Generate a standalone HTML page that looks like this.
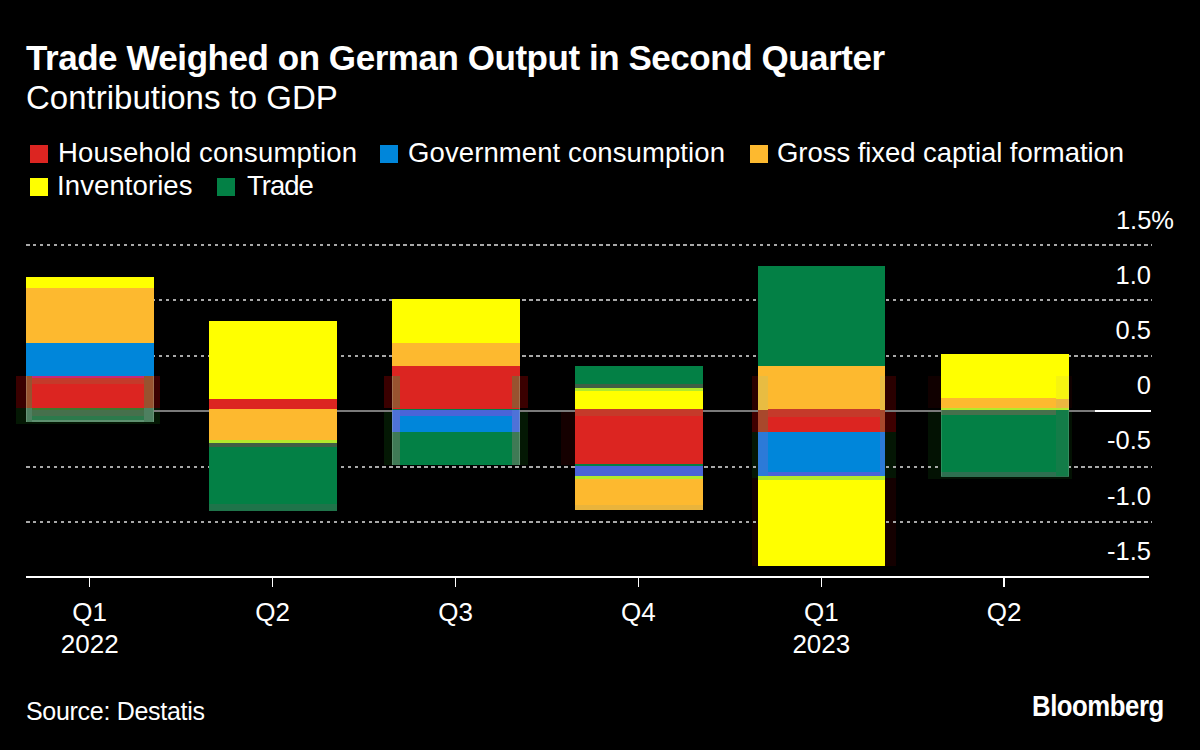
<!DOCTYPE html>
<html><head><meta charset="utf-8"><style>
html,body{margin:0;padding:0;background:#000;}
body{width:1200px;height:750px;position:relative;overflow:hidden;color:#fff;font-family:"Liberation Sans",sans-serif;}
</style></head><body>
<div style="position:absolute;left:16px;top:376px;width:144px;height:32px;background:#3a0000;"></div>
<div style="position:absolute;left:16px;top:408px;width:144px;height:16px;background:#041804;"></div>
<div style="position:absolute;left:384px;top:376px;width:144px;height:32px;background:#3a0000;"></div>
<div style="position:absolute;left:384px;top:411.8px;width:144px;height:52.8px;background:#041804;"></div>
<div style="position:absolute;left:752px;top:376px;width:144px;height:34px;background:#2a0000;"></div>
<div style="position:absolute;left:752px;top:410px;width:144px;height:22px;background:#3e0000;"></div>
<div style="position:absolute;left:752px;top:432px;width:144px;height:46px;background:#041604;"></div>
<div style="position:absolute;left:752px;top:478px;width:144px;height:88px;background:#140000;"></div>
<div style="position:absolute;left:928px;top:376px;width:144px;height:32px;background:#100000;"></div>
<div style="position:absolute;left:928px;top:410px;width:144px;height:69px;background:#031203;"></div>
<div style="position:absolute;left:561px;top:411px;width:142px;height:54px;background:#150000;"></div>
<div style="position:absolute;left:26px;top:243.5px;width:1126px;height:2px;background:repeating-linear-gradient(90deg,#a8a8a8 0 3.5px,transparent 3.5px 6.99px)"></div>
<div style="position:absolute;left:26px;top:299px;width:1126px;height:2px;background:repeating-linear-gradient(90deg,#a8a8a8 0 3.5px,transparent 3.5px 6.99px)"></div>
<div style="position:absolute;left:26px;top:354.5px;width:1126px;height:2px;background:repeating-linear-gradient(90deg,#a8a8a8 0 3.5px,transparent 3.5px 6.99px)"></div>
<div style="position:absolute;left:26px;top:465.5px;width:1126px;height:2px;background:repeating-linear-gradient(90deg,#a8a8a8 0 3.5px,transparent 3.5px 6.99px)"></div>
<div style="position:absolute;left:26px;top:521px;width:1126px;height:2px;background:repeating-linear-gradient(90deg,#a8a8a8 0 3.5px,transparent 3.5px 6.99px)"></div>
<div style="position:absolute;left:26px;top:410px;width:1069px;height:2px;background:#7a7a7a;"></div>
<div style="position:absolute;left:1095px;top:410px;width:56px;height:2px;background:#ffffff;"></div>
<div style="position:absolute;left:26px;top:277px;width:128px;height:144.5px;background:linear-gradient(to bottom,#FFFF00 0px 11px,#FDB92F 11px 66px,#0086DA 66px 99px,#C8287A 99px 101px,#C53A2A 101px 106.6px,#DC2521 106.6px 131px,#3E7A2E 131px 133px,#46704C 133px 138.6px,#2C7A4C 138.6px 143.5px,#5E9070 143.5px 144.5px)"></div>
<div style="position:absolute;left:209px;top:321px;width:127.5px;height:189.5px;background:linear-gradient(to bottom,#FFFF00 0px 78px,#DC2521 78px 88.5px,#FDB92F 88.5px 119px,#B2EA2C 119px 122.4px,#3F5F45 122.4px 126.5px,#038045 126.5px 183px,#1F744A 183px 189.5px)"></div>
<div style="position:absolute;left:392px;top:299px;width:127.6px;height:165.6px;background:linear-gradient(to bottom,#FFFF00 0px 44px,#FDB92F 44px 67px,#DC2521 67px 109.6px,#038045 109.6px 111.2px,#4A64D8 111.2px 116.8px,#0086DA 116.8px 132.8px,#038045 132.8px 165.6px)"></div>
<div style="position:absolute;left:575px;top:366px;width:127.5px;height:144.3px;background:linear-gradient(to bottom,#038045 0px 17.6px,#3F5F45 17.6px 21.6px,#B2EA2C 21.6px 25.3px,#FFFF00 25.3px 43.4px,#C53A2A 43.4px 49.6px,#DC2521 49.6px 98px,#038045 98px 100px,#4A64D8 100px 109.7px,#B2EA2C 109.7px 113.4px,#FDB92F 113.4px 139px,#E9B43C 139px 144.3px)"></div>
<div style="position:absolute;left:758px;top:266px;width:127.2px;height:299.6px;background:linear-gradient(to bottom,#038045 0px 99.8px,#FDB92F 99.8px 143.5px,#C53A2A 143.5px 150.6px,#DC2521 150.6px 166px,#0086DA 166px 205.6px,#4A64D8 205.6px 210.3px,#B2EA2C 210.3px 213.6px,#FFFF00 213.6px 299.6px)"></div>
<div style="position:absolute;left:940.5px;top:354.4px;width:128.1px;height:122.2px;background:linear-gradient(to bottom,#FFFF00 0.0px 44.2px,#FDB92F 44.2px 53.6px,#B2EA2C 53.6px 55.6px,#46704C 55.6px 61.1px,#038045 61.1px 118.1px,#2E7050 118.1px 122.2px)"></div>
<div style="position:absolute;left:26px;top:376px;width:6px;height:32px;background:#98522F;"></div>
<div style="position:absolute;left:144px;top:376px;width:10px;height:32px;background:#98522F;"></div>
<div style="position:absolute;left:26px;top:408px;width:6px;height:13.5px;background:#4E8060;"></div>
<div style="position:absolute;left:144px;top:408px;width:10px;height:13.5px;background:#4E8060;"></div>
<div style="position:absolute;left:26px;top:376px;width:1px;height:45.5px;background:rgba(200,220,200,0.22);"></div>
<div style="position:absolute;left:153px;top:376px;width:1px;height:45.5px;background:rgba(200,220,200,0.22);"></div>
<div style="position:absolute;left:392px;top:376px;width:8px;height:32px;background:#98522F;"></div>
<div style="position:absolute;left:512px;top:376px;width:7.6px;height:32px;background:#98522F;"></div>
<div style="position:absolute;left:392px;top:410px;width:8px;height:21.8px;background:#4E72D8;"></div>
<div style="position:absolute;left:512px;top:410px;width:7.6px;height:21.8px;background:#4E72D8;"></div>
<div style="position:absolute;left:392px;top:431.8px;width:8px;height:32.8px;background:#3F7A55;"></div>
<div style="position:absolute;left:512px;top:431.8px;width:7.6px;height:32.8px;background:#3F7A55;"></div>
<div style="position:absolute;left:392px;top:376px;width:1px;height:88.6px;background:rgba(200,220,200,0.22);"></div>
<div style="position:absolute;left:518.6px;top:376px;width:1.0px;height:88.6px;background:rgba(200,220,200,0.22);"></div>
<div style="position:absolute;left:758px;top:376px;width:10px;height:33.5px;background:#E8BC42;"></div>
<div style="position:absolute;left:880px;top:376px;width:5.2px;height:33.5px;background:#E8BC42;"></div>
<div style="position:absolute;left:758px;top:409.5px;width:10px;height:22.0px;background:#A8482C;"></div>
<div style="position:absolute;left:880px;top:409.5px;width:5.2px;height:22.0px;background:#A8482C;"></div>
<div style="position:absolute;left:758px;top:431.5px;width:10px;height:44.8px;background:#2C7AD8;"></div>
<div style="position:absolute;left:880px;top:431.5px;width:5.2px;height:44.8px;background:#2C7AD8;"></div>
<div style="position:absolute;left:1056px;top:376px;width:12.6px;height:22.6px;background:#F6F410;"></div>
<div style="position:absolute;left:1056px;top:398.6px;width:12.6px;height:9.4px;background:#EBB640;"></div>
<div style="position:absolute;left:1056px;top:410px;width:12.6px;height:66px;background:#137C48;"></div>
<div style="position:absolute;left:940.5px;top:410px;width:1.0px;height:66px;background:rgba(200,220,200,0.18);"></div>
<div style="position:absolute;left:1067.6px;top:376px;width:1.0px;height:100px;background:rgba(200,220,200,0.18);"></div>
<div style="position:absolute;left:26px;top:576px;width:1123px;height:1.5px;background:#ffffff;"></div>
<div style="position:absolute;left:88.95px;top:577px;width:1.5px;height:10px;background:#ffffff;"></div>
<div style="position:absolute;left:271.85px;top:577px;width:1.5px;height:10px;background:#ffffff;"></div>
<div style="position:absolute;left:454.75px;top:577px;width:1.5px;height:10px;background:#ffffff;"></div>
<div style="position:absolute;left:637.65px;top:577px;width:1.5px;height:10px;background:#ffffff;"></div>
<div style="position:absolute;left:820.55px;top:577px;width:1.5px;height:10px;background:#ffffff;"></div>
<div style="position:absolute;left:1003.45px;top:577px;width:1.5px;height:10px;background:#ffffff;"></div>
<div style="position:absolute;left:26px;top:40.37px;font-size:35px;line-height:35px;font-weight:700;white-space:nowrap;letter-spacing:-0.45px">Trade Weighed on German Output in Second Quarter</div>
<div style="position:absolute;left:26px;top:80.57px;font-size:33px;line-height:33px;font-weight:400;white-space:nowrap;">Contributions to GDP</div>
<div style="position:absolute;left:30px;top:145px;width:18px;height:18px;background:#DC2521;"></div>
<div style="position:absolute;left:58px;top:139.22px;font-size:27.5px;line-height:27.5px;font-weight:400;white-space:nowrap;letter-spacing:0.2px">Household consumption</div>
<div style="position:absolute;left:380px;top:145px;width:18px;height:18px;background:#0086DA;"></div>
<div style="position:absolute;left:408px;top:139.22px;font-size:27.5px;line-height:27.5px;font-weight:400;white-space:nowrap;letter-spacing:0.1px">Government consumption</div>
<div style="position:absolute;left:750px;top:145px;width:18px;height:18px;background:#FDB92F;"></div>
<div style="position:absolute;left:777px;top:139.22px;font-size:27.5px;line-height:27.5px;font-weight:400;white-space:nowrap;letter-spacing:-0.05px">Gross fixed captial formation</div>
<div style="position:absolute;left:30px;top:178px;width:18px;height:18px;background:#FFFF00;"></div>
<div style="position:absolute;left:57px;top:172.22px;font-size:27.5px;line-height:27.5px;font-weight:400;white-space:nowrap;letter-spacing:0.1px">Inventories</div>
<div style="position:absolute;left:217px;top:178px;width:18px;height:18px;background:#038045;"></div>
<div style="position:absolute;left:247px;top:172.22px;font-size:27.5px;line-height:27.5px;font-weight:400;white-space:nowrap;letter-spacing:-1px">Trade</div>
<div style="position:absolute;right:26px;top:207.71px;font-size:25.5px;line-height:25.5px;font-weight:400;white-space:nowrap;text-align:right;">1.5%</div>
<div style="position:absolute;right:49px;top:262.81px;font-size:25.5px;line-height:25.5px;font-weight:400;white-space:nowrap;text-align:right;">1.0</div>
<div style="position:absolute;right:49px;top:318.01px;font-size:25.5px;line-height:25.5px;font-weight:400;white-space:nowrap;text-align:right;">0.5</div>
<div style="position:absolute;right:49px;top:373.11px;font-size:25.5px;line-height:25.5px;font-weight:400;white-space:nowrap;text-align:right;">0</div>
<div style="position:absolute;right:49px;top:428.31px;font-size:25.5px;line-height:25.5px;font-weight:400;white-space:nowrap;text-align:right;">-0.5</div>
<div style="position:absolute;right:49px;top:483.71px;font-size:25.5px;line-height:25.5px;font-weight:400;white-space:nowrap;text-align:right;">-1.0</div>
<div style="position:absolute;right:49px;top:538.71px;font-size:25.5px;line-height:25.5px;font-weight:400;white-space:nowrap;text-align:right;">-1.5</div>
<div style="position:absolute;left:-10.299999999999997px;width:200px;top:598.99px;font-size:26px;line-height:26px;font-weight:400;white-space:nowrap;text-align:center;">Q1</div>
<div style="position:absolute;left:172.60000000000002px;width:200px;top:598.99px;font-size:26px;line-height:26px;font-weight:400;white-space:nowrap;text-align:center;">Q2</div>
<div style="position:absolute;left:355.5px;width:200px;top:598.99px;font-size:26px;line-height:26px;font-weight:400;white-space:nowrap;text-align:center;">Q3</div>
<div style="position:absolute;left:538.4px;width:200px;top:598.99px;font-size:26px;line-height:26px;font-weight:400;white-space:nowrap;text-align:center;">Q4</div>
<div style="position:absolute;left:721.3px;width:200px;top:598.99px;font-size:26px;line-height:26px;font-weight:400;white-space:nowrap;text-align:center;">Q1</div>
<div style="position:absolute;left:904.2px;width:200px;top:598.99px;font-size:26px;line-height:26px;font-weight:400;white-space:nowrap;text-align:center;">Q2</div>
<div style="position:absolute;left:-10.299999999999997px;width:200px;top:631.49px;font-size:26px;line-height:26px;font-weight:400;white-space:nowrap;text-align:center;">2022</div>
<div style="position:absolute;left:721.3px;width:200px;top:631.49px;font-size:26px;line-height:26px;font-weight:400;white-space:nowrap;text-align:center;">2023</div>
<div style="position:absolute;left:26px;top:698.84px;font-size:25px;line-height:25px;font-weight:400;white-space:nowrap;letter-spacing:-0.3px">Source: Destatis</div>
<div style="position:absolute;left:1032px;top:692.49px;font-size:28.6px;line-height:28.6px;font-weight:700;white-space:nowrap;transform-origin:0 0;transform:scaleX(0.9);letter-spacing:-0.5px">Bloomberg</div>
</body></html>
